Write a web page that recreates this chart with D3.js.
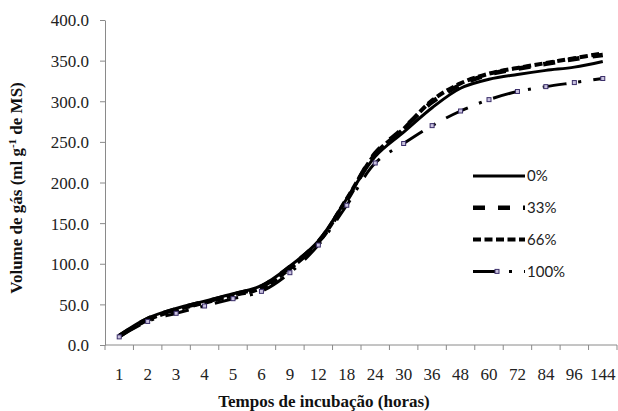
<!DOCTYPE html>
<html>
  <head>
    <meta charset="utf-8" />
    <script src="https://d3js.org/d3.v7.min.js"></script>
    <style>
      body { margin: 0; background: #fff; }
      .tick text, .xlabel { font-family: "Liberation Serif", "Times New Roman", serif; font-size: 17px; fill: #222; }
      .axis path, .axis line { stroke: #8a8a8a; }
      .legend text { font-family: Lato, "Liberation Sans", sans-serif; font-size: 15px; fill: #222; }
      .title { font-family: "Liberation Serif", "Times New Roman", serif; font-size: 17px; font-weight: bold; fill: #111; }
    </style>
  </head>
  <body>
    <svg id="chart" width="618" height="411"></svg>
    <script>

      // tempos de incubação (horas)
      var hours = ["1", "2", "3", "4", "5", "6", "9", "12", "18", "24", "30", "36", "48", "60", "72", "84", "96", "144"];

      // volume de gás por nível
      var s0   = [12, 33, 45, 54, 63, 73, 97, 128, 180, 232, 262, 292, 316, 327, 333, 338, 342, 349];
      var s33  = [11, 32, 44, 53, 62, 72, 96, 127, 178, 236, 267, 299, 320, 333, 340, 346, 352, 357];
      var s66  = [11, 31, 43, 52, 61, 70, 94, 126, 180, 235, 266, 301, 322, 334, 341, 347, 353, 359];
      var s100 = [10, 29, 39, 48, 57, 66, 89, 123, 172, 224, 248, 270, 288, 302, 312, 318, 323, 328];

      var seriesNames = ["0%", "33%", "66%", "100%"];
      var yTicks = [0, 50, 100, 150, 200, 250, 300, 350, 400];

      var margin = {top: 20, right: 1, bottom: 66, left: 105};
      var width = 618 - margin.left - margin.right;
      var height = 411 - margin.top - margin.bottom;

      var svg = d3.select("#chart");
      var g = svg.append("g").attr("transform", "translate(" + margin.left + "," + margin.top + ")");

      var x = d3.scaleBand().domain(hours).range([0, width]).padding(0);
      var y = d3.scaleLinear().domain([0, 400]).range([height, 0]);

      // eixo y
      g.append("g")
        .attr("class", "axis")
        .call(d3.axisLeft(y).tickValues(yTicks).tickFormat(d3.format(".1f")).tickSize(5).tickPadding(11).tickSizeOuter(0))
        .call(function(a) { a.selectAll("text").attr("dy", "0.35em"); });

      // eixo x: linha, marcas nos limites das categorias, rótulos no centro
      var xa = g.append("g").attr("class", "axis").attr("transform", "translate(0," + height + ")");
      xa.append("line").attr("x1", 0).attr("x2", width).attr("y1", 0).attr("y2", 0);
      xa.selectAll(".bound")
        .data(hours.concat(["end"]))
        .enter().append("line")
        .attr("class", "bound")
        .attr("x1", function(d) { return d === "end" ? width : x(d); })
        .attr("x2", function(d) { return d === "end" ? width : x(d); })
        .attr("y1", 0).attr("y2", 5);
      xa.selectAll(".xlabel")
        .data(hours)
        .enter().append("text")
        .attr("class", "xlabel")
        .attr("text-anchor", "middle")
        .attr("x", function(d) { return x(d) + x.bandwidth() / 2; })
        .attr("y", 35)
        .text(function(d) { return d; });

      var styles = [
        {width: 3, dash: null},
        {width: 4.5, dash: "12,13"},
        {width: 4, dash: "8,3.5"},
        {width: 3, dash: "24,12,3,12"}
      ];

      var line = d3.line()
        .x(function(d, i) { return x(hours[i]) + x.bandwidth() / 2; })
        .y(function(d) { return y(d); })
        .curve(d3.curveCatmullRom.alpha(0.5));

      var allSeries = [s0, s33, s66, s100];

      g.selectAll(".serie")
        .data(allSeries)
        .enter().append("path")
        .attr("class", "serie")
        .attr("fill", "none")
        .attr("stroke", "#000")
        .attr("stroke-width", function(d, i) { return styles[i].width; })
        .attr("stroke-dasharray", function(d, i) { return styles[i].dash; })
        .attr("d", line);

      // marcadores da série 100%
      g.selectAll(".mk")
        .data(s100)
        .enter().append("rect")
        .attr("class", "mk")
        .attr("x", function(d, i) { return x(hours[i]) + x.bandwidth() / 2 - 2; })
        .attr("y", function(d) { return y(d) - 2; })
        .attr("width", 4).attr("height", 4)
        .attr("fill", "#c9c2df")
        .attr("stroke", "#3b2f6a")
        .attr("stroke-width", 1);

      // legenda
      var legend = svg.append("g").attr("class", "legend").attr("transform", "translate(473,176)");
      var items = legend.selectAll("g")
        .data(seriesNames)
        .enter().append("g")
        .attr("transform", function(d, i) { return "translate(0," + (i * 31.8) + ")"; });
      items.append("line")
        .attr("x1", 0).attr("x2", 52)
        .attr("stroke", "#000")
        .attr("stroke-width", function(d, i) { return styles[i].width; })
        .attr("stroke-dasharray", function(d, i) { return styles[i].dash; });
      items.filter(function(d, i) { return i === 3; })
        .append("rect")
        .attr("x", 22).attr("y", -2).attr("width", 4).attr("height", 4)
        .attr("fill", "#c9c2df").attr("stroke", "#3b2f6a").attr("stroke-width", 1);
      items.append("text")
        .attr("x", 54)
        .attr("dy", "0.35em")
        .text(function(d) { return d; });

      // títulos dos eixos
      svg.append("text")
        .attr("class", "title")
        .attr("text-anchor", "middle")
        .attr("x", 324)
        .attr("y", 407)
        .text("Tempos de incubação (horas)");

      var yt = svg.append("text")
        .attr("class", "title")
        .attr("text-anchor", "middle")
        .attr("transform", "translate(22,188) rotate(-90)");
      yt.append("tspan").text("Volume de gás (ml g");
      yt.append("tspan").attr("baseline-shift", "super").attr("font-size", "11px").text("-1");
      yt.append("tspan").text(" de MS)");

    </script>
  </body>
</html>
